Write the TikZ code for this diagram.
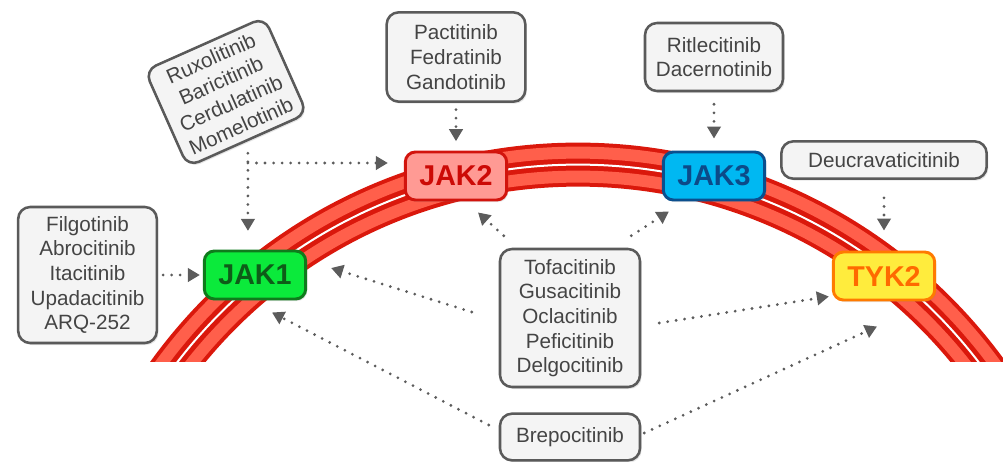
\documentclass[tikz,border=0pt]{standalone}
\usepackage{fontspec}
\setmainfont{Liberation Sans}
\usetikzlibrary{arrows.meta,shadows}
\definecolor{boxgray}{HTML}{F4F4F4}
\definecolor{boxline}{HTML}{5A5A5A}
\definecolor{drugtext}{HTML}{444444}
\definecolor{dotgray}{HTML}{5C5C5C}
\definecolor{membdark}{HTML}{DA180C}
\definecolor{memblight}{HTML}{FF5F4B}
\definecolor{jakIfill}{HTML}{0BEA3B}
\definecolor{jakIline}{HTML}{0F7A1C}
\definecolor{jakItext}{HTML}{0E5C18}
\definecolor{jakIIfill}{HTML}{FF9A94}
\definecolor{jakIIline}{HTML}{D2140D}
\definecolor{jakIItext}{HTML}{CC0A06}
\definecolor{jakIIIfill}{HTML}{00B8F2}
\definecolor{jakIIIline}{HTML}{0B4F8E}
\definecolor{jakIIItext}{HTML}{0C4A88}
\definecolor{tykfill}{HTML}{FFEC3D}
\definecolor{tykline}{HTML}{FF7A00}
\definecolor{tyktext}{HTML}{FF6A00}

\begin{document}
\begin{tikzpicture}[x=0.75pt,y=0.75pt]
        \tikzstyle{every node}=[font=\fontsize{15.5}{18.5}\selectfont, text=drugtext]
        \tikzstyle{drug}=[draw=boxline, fill=boxgray, line width=1.9pt, rounded corners=9pt, align=center, inner sep=2pt, drop shadow={opacity=0.2, shadow xshift=1.2pt, shadow yshift=-1.5pt}]
        \tikzstyle{kinase}=[rounded corners=7.5pt, line width=2.2pt, minimum width=76pt, minimum height=36pt, inner sep=0pt, font=\fontsize{21.5}{24}\selectfont\bfseries, drop shadow={opacity=0.2, shadow xshift=1.2pt, shadow yshift=-1.5pt}]
        \tikzstyle{dep}=[draw=dotgray, line width=2.3pt, line cap=round, dash pattern=on 0pt off 6.4pt, -{Triangle[length=9pt,width=10pt]}]
        \useasboundingbox (0,0) rectangle (1003,-461);
        % membrane
        \begin{scope}
            \clip (0,-361) rectangle (1003,0);
            \draw[membdark, line width=33pt] (578,-669.6) circle[radius=505];
            \foreach \r in {517,493}
                \draw[memblight, line width=9pt] (578,-669.6) circle[radius=\r];
            \draw[white, line width=1.5pt] (578,-669.6) circle[radius=505];
        \end{scope}
        % kinases
        \node[kinase, fill=jakIfill, draw=jakIline, text=jakItext] (jak1) at (255,-275) {JAK1};
        \node[kinase, fill=jakIIfill, draw=jakIIline, text=jakIItext] (jak2) at (456,-176) {JAK2};
        \node[kinase, fill=jakIIIfill, draw=jakIIIline, text=jakIIItext] (jak3) at (714,-176) {JAK3};
        \node[kinase, fill=tykfill, draw=tykline, text=tyktext] (tyk2) at (884,-276) {TYK2};
        % inhibitors
        \node[drug, minimum width=104pt, minimum height=102pt] (filgo) at (87.5,-275) {Filgotinib\\Abrocitinib\\Itacitinib\\Upadacitinib\\ARQ-252};
        \node[drug, minimum width=98pt, minimum height=79pt, rotate=24] (ruxo) at (226,-92) {Ruxolitinib\\Baricitinib\\Cerdulatinib\\Momelotinib};
        \node[drug, minimum width=104pt, minimum height=67pt] (pacti) at (456,-57) {Pactitinib\\Fedratinib\\Gandotinib};
        \node[drug, minimum width=103.5pt, minimum height=51pt] (ritle) at (714,-57) {Ritlecitinib\\Dacernotinib};
        \node[drug, minimum width=154pt, minimum height=28pt] (deucra) at (884,-160) {Deucravaticitinib};
        \node[drug, minimum width=105pt, minimum height=103.5pt] (tofa) at (570,-318) {Tofacitinib\\Gusacitinib\\Oclacitinib\\Peficitinib\\Delgocitinib};
        \node[drug, minimum width=105pt, minimum height=35pt] (brepo) at (570,-437) {Brepocitinib};
        % connectors
        \coordinate (fork) at (ruxo.south |- 0,-163);
        \draw[dep, shorten <=3.75pt, shorten >=2.25pt] (filgo) -- (jak1);
        \draw[dep, shorten <=9pt, shorten >=14pt] (ruxo.south) -- (ruxo.south |- jak1.north);
        \draw[dep, shorten >=12pt] (fork) -- (fork -| jak2.west);
        \draw[dep, shorten <=5pt, shorten >=7pt] (pacti) -- (jak2);
        \draw[dep, shorten <=9pt, shorten >=9pt] (ritle) -- (jak3);
        \draw[dep, shorten <=13.5pt, shorten >=15pt] (deucra) -- (tyk2);
        \draw[dep] ([shift={(5,12)}]tofa.north west) -- ([shift={(22,-11)}]jak2.south);
        \draw[dep] ([shift={(-10,12)}]tofa.north east) -- ([shift={(7,-10)}]jak3.south west);
        \draw[dep] ([shift={(-27,6)}]tofa.west) -- ([shift={(24,7)}]jak1.east);
        \draw[dep] ([shift={(18,-5)}]tofa.east) -- ([shift={(-3,5)}]tyk2.south west);
        \draw[dep] ([shift={(-10,12)}]brepo.west) -- ([shift={(17,-12)}]jak1.south);
        \draw[dep] ([shift={(3,4)}]brepo.east) -- ([shift={(-7,-25)}]tyk2.south);
    \end{tikzpicture}
\end{document}
